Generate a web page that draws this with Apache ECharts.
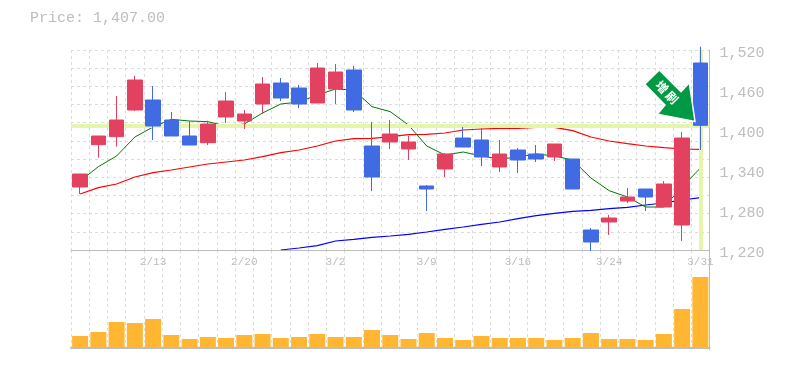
<!DOCTYPE html>
<html>
<head>
<meta charset="utf-8">
<style>html,body{margin:0;padding:0;background:#fff}#c{width:785px;height:370px}</style>
<script src="https://cdn.jsdelivr.net/npm/echarts@6/dist/echarts.min.js"></script>
</head>
<body>
<div id="c"></div>
<script>
const dates = ['2/6','2/7','2/10','2/12','2/13','2/14','2/17','2/18','2/19','2/20','2/21','2/25','2/26','2/27','3/2','3/3','3/4','3/5','3/6','3/9','3/10','3/11','3/12','3/13','3/16','3/17','3/18','3/19','3/23','3/24','3/25','3/26','3/27','3/30','3/31'];
const tickLabels = ['2/13','2/20','3/2','3/9','3/16','3/24','3/31'];
const priceTicks = {min:1220,max:1520,step:60};
const opens = [1314.5,1378,1390,1430,1445,1415,1391,1381,1419.5,1413.5,1439,1470.5,1463,1440.5,1461.5,1490,1376,1382,1371.5,1316,1341.5,1388,1385,1344.5,1370,1364,1359.5,1356.5,1250,1262,1293.5,1311.5,1284.5,1257.5,1500.5];
const closes = [1334,1391,1415,1475,1406,1391,1377.5,1409,1443.5,1424,1469,1448,1439,1493,1487,1430,1329.5,1394,1382,1311.5,1364,1374.5,1359.5,1364,1355,1356.5,1379,1311.5,1232,1268,1299.5,1299.5,1319,1388,1407];
const lows = [1304,1358.5,1375,1428.5,1385,1391,1377.5,1377.5,1410.5,1401.5,1424,1443.5,1433,1440.5,1439,1427,1308.5,1371.5,1355,1278.5,1329.5,1374.5,1346,1337,1335.5,1352,1353.5,1311.5,1218.5,1242.5,1290.5,1278.5,1284.5,1233.5,1370];
const highs = [1334,1391,1451,1481,1466,1427,1413.5,1414,1457,1430,1479.5,1478,1467.5,1500.5,1499,1496,1412,1415,1391,1317.5,1365.5,1404.5,1403,1385,1373,1377.5,1379,1356.5,1253,1272.5,1313,1311.5,1323.5,1397,1525];
const maShort = [1323.5,1345,1361,1389.5,1404.5,1416,1413.5,1412.5,1406,1409,1425.5,1439,1442,1452.5,1461.5,1460,1435,1427.5,1407.5,1376,1362.5,1367,1361,1356.5,1359.5,1364,1361,1355,1328,1309,1299.5,1284.5,1284.5,1314.5,1343];
const maMid = [1304,1313.5,1319,1329.5,1336,1340,1344.5,1349,1352,1355,1360,1366,1370,1376,1383.5,1387,1387.5,1390,1393,1393.5,1395.5,1400,1401.5,1402.5,1402.5,1404,1404,1399,1389.5,1383.5,1379.5,1376,1373.5,1371.5,1371];
const maLong = [null,null,null,null,null,null,null,null,null,null,null,1220,1223,1226.5,1233.5,1236,1239,1241,1243.5,1247,1251,1254.5,1258.5,1262,1267,1271.5,1275,1278,1279.5,1282,1284,1287.5,1290.5,1295,1298.5];
const volumes = [12,16,26,25,29,13,9,11,10,13,14,10,11,14,11,11,18,13,9,15,10,8,12,10,10,10,8,10,15,9,9,8,14,39,71];
const lastPrice = 1407;
const lastDate = '3/31';
const titleText = 'Price: 1,407.00';

const MONO = '"Liberation Mono", monospace';
const GRAY = '#bdbdbd';
const GRID = '#dddddd';
const dashed = {show:true, lineStyle:{color:GRID, width:1, type:[3,3]}};
const highlight = '#e6f5ac';

const chart = echarts.init(document.getElementById('c'), null, {renderer:'canvas'});
chart.setOption({
  animation:false,
  backgroundColor:'#fff',
  title:{text:titleText, left:30, top:11, padding:0, textStyle:{fontFamily:MONO, fontSize:15, fontWeight:'normal', color:GRAY}},
  grid:[
    {left:71, width:638.5, top:50, height:200},
    {left:71, width:638.5, top:250, height:100}
  ],
  xAxis:[
    {type:'category', gridIndex:0, data:dates, boundaryGap:true,
     axisLine:{show:true, lineStyle:{color:GRAY, width:1}}, axisTick:{show:false},
     splitLine:{...dashed, interval:0},
     axisLabel:{interval:(i,v)=>tickLabels.includes(v), margin:7, fontFamily:MONO, fontSize:11, color:GRAY, hideOverlap:false}},
    {type:'category', gridIndex:1, data:dates, boundaryGap:true,
     axisLine:{show:true, lineStyle:{color:GRAY, width:2}}, axisTick:{show:false},
     splitLine:{...dashed, interval:0}, axisLabel:{show:false}}
  ],
  yAxis:[
    {type:'value', gridIndex:0, position:'right', min:priceTicks.min, max:priceTicks.max, interval:priceTicks.step,
     axisLine:{show:true, lineStyle:{color:GRAY, width:1}}, axisTick:{show:false}, splitLine:{show:false},
     axisLabel:{margin:10, fontFamily:MONO, fontSize:15, color:GRAY, verticalAlign:'top', lineHeight:6,
       formatter:v=>v.toLocaleString('en-US')}},
    {type:'value', gridIndex:1, position:'right', min:-2, max:98,
     axisLine:{show:true, lineStyle:{color:GRAY, width:1}}, axisTick:{show:false}, splitLine:{show:false}, axisLabel:{show:false}},
    {type:'value', gridIndex:0, position:'left', min:0, max:11, interval:1,
     axisLine:{show:false}, axisTick:{show:false}, axisLabel:{show:false}, splitLine:dashed}
  ],
  series:[
    {type:'line', xAxisIndex:0, yAxisIndex:0, data:[], z:1, silent:true,
     markLine:{silent:true, symbol:'none', label:{show:false}, animation:false,
       lineStyle:{color:highlight, width:4, type:'solid'},
       data:[{yAxis:lastPrice},{xAxis:lastDate}]}},
    {name:'long', type:'line', data:maLong, symbol:'none', z:3, connectNulls:false, lineStyle:{color:'#0000ff', width:1.2}},
    {name:'mid', type:'line', data:maMid, symbol:'none', z:3, lineStyle:{color:'#ff0000', width:1.2}},
    {name:'short', type:'line', data:maShort, symbol:'none', z:3, lineStyle:{color:'#007a00', width:1}},
    {type:'candlestick', xAxisIndex:0, yAxisIndex:0, z:5, barWidth:15, clip:false,
     data:dates.map((_,i)=>[opens[i],closes[i],lows[i],highs[i]]),
     itemStyle:{color:'#e24260', borderColor:'#e24260', color0:'#416be2', borderColor0:'#416be2', borderWidth:1}},
    {type:'bar', xAxisIndex:1, yAxisIndex:1, data:volumes, barWidth:16, z:5, itemStyle:{color:'#ffb733'}}
  ],
  graphic:[
    {type:'polygon', z:100,
     shape:{points:[[659.3,70],[644.7,84.3],[665,105],[657.3,114.3],[695,121.5],[689.3,82.7],[681,91.7]]},
     style:{fill:'#009944', stroke:'#ffffff', lineWidth:1.5}},
    {type:'text', z:101, x:662, y:87, rotation:-Math.PI/4,
     style:{text:'増', fill:'#fff', font:'bold 12px "Noto Sans CJK JP"', textAlign:'center', textVerticalAlign:'middle'}},
    {type:'text', z:101, x:672, y:97.5, rotation:-Math.PI/4,
     style:{text:'刷', fill:'#fff', font:'bold 12px "Noto Sans CJK JP"', textAlign:'center', textVerticalAlign:'middle'}}
  ]
});
</script>
</body>
</html>
